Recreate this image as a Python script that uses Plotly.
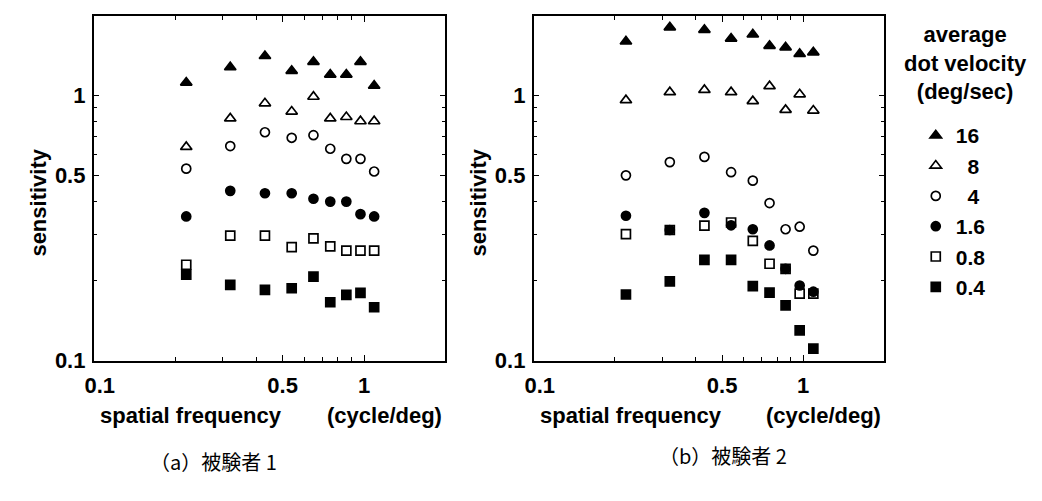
import math
import plotly.graph_objects as go

# ---------------- data ----------------
freq = [0.22, 0.32, 0.43, 0.54, 0.65, 0.75, 0.86, 0.97, 1.09]
velocities = ["16", "8", "4", "1.6", "0.8", "0.4"]

# subject 1
s1_v16 = [1.12, 1.28, 1.41, 1.24, 1.34, 1.20, 1.20, 1.34, 1.09]
s1_v8 = [0.64, 0.82, 0.935, 0.87, 0.99, 0.82, 0.83, 0.80, 0.80]
s1_v4 = [0.53, 0.645, 0.727, 0.693, 0.709, 0.63, 0.577, 0.577, 0.517]
s1_v1_6 = [0.35, 0.437, 0.428, 0.428, 0.408, 0.398, 0.398, 0.357, 0.35]
s1_v0_8 = [0.23, 0.296, 0.296, 0.268, 0.289, 0.27, 0.26, 0.26, 0.26]
s1_v0_4 = [0.211, 0.193, 0.185, 0.1875, 0.2075, 0.166, 0.177, 0.18, 0.159]

# subject 2
s2_v16 = [1.60, 1.81, 1.77, 1.64, 1.70, 1.54, 1.52, 1.435, 1.456]
s2_v8 = [0.961, 1.03, 1.05, 1.03, 0.953, 1.085, 0.883, 1.011, 0.878]
s2_v4 = [0.50, 0.561, 0.587, 0.514, 0.4775, 0.393, 0.313, 0.32, 0.26]
s2_v1_6 = [0.352, 0.311, 0.361, 0.324, 0.313, 0.272, 0.222, 0.192, 0.182]
s2_v0_8 = [0.30, 0.311, 0.323, 0.332, 0.283, 0.232, 0.222, 0.179, 0.179]
s2_v0_4 = [0.1776, 0.199, 0.24, 0.24, 0.191, 0.1805, 0.1616, 0.13, 0.111]

x_ticks = [0.1, 0.5, 1]
x_ticktext = ["\u20070.1", "0.5", "1"]
y_ticks = [0.1, 0.5, 1]
y_ticktext = ["0.1", "0.5", "1"]
minor_ticks = [0.2, 0.3, 0.4, 0.6, 0.7, 0.8, 0.9]

legend_title = "average<br>dot velocity<br>(deg/sec)"
x_title_left = "spatial frequency"
x_title_right = "(cycle/deg)"
y_title = "sensitivity"
captions = ["（a）被験者 1", "（b）被験者 2"]

# ---------------- styling ----------------
W, H = 1042, 501
FONT = "Liberation Sans, Arial, sans-serif"
symbols = ["triangle-up", "triangle-up-open", "circle-open", "circle",
           "square-open", "square"]
sizes = [10, 10, 9, 9, 9, 9]
labels = ["16", "\u20078", "\u20074", "1.6", "0.8", "0.4"]

subj1 = [s1_v16, s1_v8, s1_v4, s1_v1_6, s1_v0_8, s1_v0_4]
subj2 = [s2_v16, s2_v8, s2_v4, s2_v1_6, s2_v0_8, s2_v0_4]

fig = go.Figure()

for i, vals in enumerate(subj1):
    fig.add_trace(go.Scatter(
        x=freq, y=vals, mode="markers", name=labels[i],
        marker=dict(symbol=symbols[i], size=sizes[i], color="black",
                    line=dict(color="black", width=1.7)),
        xaxis="x", yaxis="y", showlegend=True))
for i, vals in enumerate(subj2):
    fig.add_trace(go.Scatter(
        x=freq, y=vals, mode="markers", name=labels[i],
        marker=dict(symbol=symbols[i], size=sizes[i], color="black",
                    line=dict(color="black", width=1.7)),
        xaxis="x2", yaxis="y2", showlegend=False))

# pixel geometry of the two frames
DX = -10
left1, right1 = 76 + DX, 435 + DX
left2, right2 = 525 + DX, 883 + DX
top, bottom = 8, 362
ydom = [1 - bottom / H, 1 - top / H]
tfont = dict(family=FONT, size=22, color="black", weight="bold")
lfont = dict(family=FONT, size=21, color="black", weight="bold")


def xaxis_cfg(l, r):
    return dict(
        type="log", range=[-1, math.log10(2)], domain=[l / W, r / W],
        tickvals=x_ticks, ticktext=x_ticktext, ticks="inside", ticklen=6,
        tickwidth=1.2, tickcolor="black",
        minor=dict(tickvals=minor_ticks, ticks="inside", ticklen=4,
                   tickwidth=1, tickcolor="black", showgrid=False),
        showline=True, linecolor="black", linewidth=1.6, mirror="allticks",
        showgrid=False, zeroline=False,
        tickfont=tfont, ticklabelstandoff=4)


def yaxis_cfg(anchor):
    return dict(
        type="log", range=[-1, math.log10(2)], domain=ydom, anchor=anchor,
        tickvals=y_ticks, ticktext=y_ticktext, ticks="inside", ticklen=6,
        tickwidth=1.2, tickcolor="black",
        minor=dict(tickvals=minor_ticks, ticks="inside", ticklen=4,
                   tickwidth=1, tickcolor="black", showgrid=False),
        showline=True, linecolor="black", linewidth=1.6, mirror="allticks",
        showgrid=False, zeroline=False,
        tickfont=tfont, ticklabelstandoff=2)


x1 = xaxis_cfg(left1, right1)
x1["anchor"] = "y"
x2 = xaxis_cfg(left2, right2)
x2["anchor"] = "y2"

annotations = []
for (l, r) in [(left1, right1), (left2, right2)]:
    annotations.append(dict(
        text=x_title_left, x=(l + 4) / W, y=1 - 418 / H, xref="paper",
        yref="paper", xanchor="left", yanchor="middle", showarrow=False,
        font=tfont))
    annotations.append(dict(
        text=x_title_right, x=(r - 1) / W, y=1 - 418 / H, xref="paper",
        yref="paper", xanchor="right", yanchor="middle", showarrow=False,
        font=tfont))
    annotations.append(dict(
        text=y_title, x=(l - 56) / W, y=1 - 200 / H, xref="paper",
        yref="paper", xanchor="center", yanchor="middle", showarrow=False,
        textangle=-90, font=tfont))

annotations.append(dict(
    text=captions[0], x=(198 + DX) / W, y=1 - 466 / H, xref="paper",
    yref="paper", xanchor="center", yanchor="middle", showarrow=False,
    font=dict(family="Noto Sans CJK JP", size=20, color="black")))
annotations.append(dict(
    text=captions[1], x=(718 + DX) / W, y=1 - 459 / H, xref="paper",
    yref="paper", xanchor="center", yanchor="middle", showarrow=False,
    font=dict(family="Noto Sans CJK JP", size=20, color="black")))
annotations.append(dict(
    text=legend_title, x=(966 + DX) / W, y=1 - 56 / H, xref="paper",
    yref="paper", xanchor="center", yanchor="middle", showarrow=False,
    align="center", font=tfont))

fig.update_layout(
    width=W, height=H,
    margin=dict(l=0, r=0, t=0, b=0),
    paper_bgcolor="white", plot_bgcolor="white",
    xaxis=x1, yaxis=yaxis_cfg("x"),
    xaxis2=x2, yaxis2=yaxis_cfg("x2"),
    annotations=annotations,
    legend=dict(x=(915 + DX) / W, y=1 - 110 / H, xanchor="left",
                yanchor="top", font=lfont,
                bgcolor="rgba(0,0,0,0)", itemclick=False),
    showlegend=True,
)

fig.write_html("out.html")
